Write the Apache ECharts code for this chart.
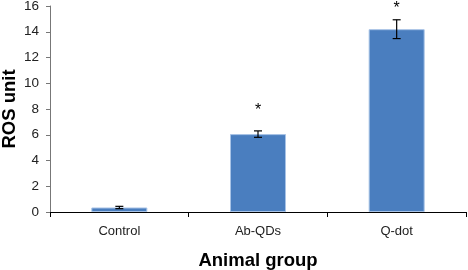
<!DOCTYPE html>
<html><head><meta charset="utf-8">
<script src="https://cdn.jsdelivr.net/npm/echarts@6/dist/echarts.min.js"></script>
<style>html,body{margin:0;padding:0;background:#fff}#c{width:468px;height:270px}</style>
</head><body><div id="c"></div>
<script>
var categories = ['Control', 'Ab-QDs', 'Q-dot'];
var values = [0.35, 6.05, 14.2];
var errors = [0.09, 0.25, 0.73];
var sigMarks = ['', '*', '*'];
var sigLevels = [null, 8.1, 16.0];
var yTicks = [0, 2, 4, 6, 8, 10, 12, 14, 16];

var chart = echarts.init(document.getElementById('c'), null, {renderer: 'canvas'});
var errData = values.map(function (v, i) { return [i, v - errors[i], v + errors[i]]; });
var sigData = sigLevels.map(function (v, i) { return [i, v == null ? 0 : v, sigMarks[i]]; });

chart.setOption({
  animation: false,
  grid: {left: 50, right: 2, top: 6, bottom: 58, containLabel: false, outerBoundsMode: 'none'},
  xAxis: {
    type: 'category', data: categories,
    name: 'Animal group', nameLocation: 'middle', nameGap: 39, nameMoveOverlap: false,
    nameTextStyle: {fontFamily: 'Liberation Sans', fontWeight: 'bold', fontSize: 18.5, color: '#000'},
    axisLine: {lineStyle: {color: '#000', width: 1}},
    axisTick: {show: true, alignWithLabel: false, length: 5, lineStyle: {color: '#000'}},
    axisLabel: {fontFamily: 'Liberation Sans', fontSize: 13, color: '#222', margin: 13}
  },
  yAxis: {
    type: 'value', min: 0, max: 16, interval: 2,
    name: 'ROS unit', nameLocation: 'middle', nameGap: 31, nameMoveOverlap: false,
    nameTextStyle: {fontFamily: 'Liberation Sans', fontWeight: 'bold', fontSize: 18.5, color: '#000'},
    axisLine: {show: true, lineStyle: {color: '#777', width: 1}},
    axisTick: {show: true, length: 4, lineStyle: {color: '#777'}},
    splitLine: {show: false},
    axisLabel: {fontFamily: 'Liberation Sans', fontSize: 13.5, color: '#222', margin: 11,
      formatter: function (v) { return yTicks.indexOf(v) >= 0 ? String(v) : ''; }}
  },
  series: [
    {
      type: 'bar', data: values, barWidth: 56,
      itemStyle: {color: '#4A7EBF', borderColor: '#A8C3E6', borderWidth: 1}
    },
    {
      type: 'custom', data: errData, z: 5,
      renderItem: function (params, api) {
        var x = api.value(0);
        var lo = api.coord([x, api.value(1)]);
        var hi = api.coord([x, api.value(2)]);
        var w = 4;
        var st = {stroke: '#000', lineWidth: 1.2};
        return {type: 'group', children: [
          {type: 'line', shape: {x1: lo[0], y1: lo[1], x2: hi[0], y2: hi[1]}, style: st},
          {type: 'line', shape: {x1: lo[0] - w, y1: lo[1], x2: lo[0] + w, y2: lo[1]}, style: st},
          {type: 'line', shape: {x1: hi[0] - w, y1: hi[1], x2: hi[0] + w, y2: hi[1]}, style: st}
        ]};
      }
    },
    {
      type: 'custom', data: sigData, z: 6,
      renderItem: function (params, api) {
        var p = api.coord([api.value(0), api.value(1)]);
        var t = sigData[params.dataIndex][2];
        return {type: 'text', x: p[0], y: p[1] + 3,
          style: {text: t, fill: '#000', fontFamily: 'Liberation Sans', fontSize: 16,
            align: 'center', verticalAlign: 'middle'}};
      }
    }
  ]
});
</script></body></html>
